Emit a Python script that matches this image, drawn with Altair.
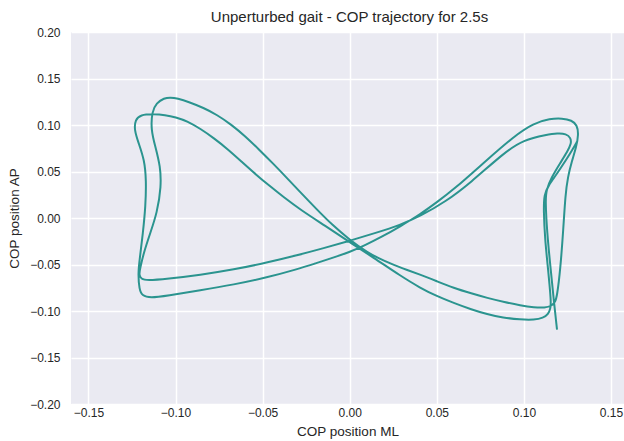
import altair as alt
import pandas as pd

# Centre-of-pressure path in recording order, split into strokes that follow
# one another (ML = x, AP = y).
tail_ml = [0.1190, 0.1171, 0.1152, 0.1133, 0.1123, 0.1129, 0.1157, 0.1209, 0.1249, 0.1272,
           0.1269, 0.1243, 0.1192, 0.1133, 0.0998, 0.0883, 0.0692]
tail_ap = [-0.1200, -0.0878, -0.0520, -0.0161, 0.0197, 0.0304, 0.0433, 0.0594, 0.0712, 0.0798,
           0.0863, 0.0906, 0.0911, 0.0895, 0.0841, 0.0698, 0.0376]

swing1_ml = [0.0550, 0.0405, 0.0290, 0.0150, 0.0000, -0.0150, -0.0300, -0.0475, -0.0666, -0.0858,
             -0.1049, -0.1164]
swing1_ap = [0.0175, 0.0020, -0.0075, -0.0160, -0.0245, -0.0325, -0.0400, -0.0480, -0.0555, -0.0612,
             -0.0655, -0.0673]

left1_ml = [-0.1198, -0.1210, -0.1203, -0.1183, -0.1145, -0.1106, -0.1082, -0.1087, -0.1116, -0.1141,
            -0.1135, -0.1110, -0.1065]
left1_ap = [-0.0655, -0.0610, -0.0540, -0.0376, -0.0161, 0.0054, 0.0339, 0.0554, 0.0769, 0.0948,
            0.1145, 0.1235, 0.1290]

swing2_ml = [-0.1030, -0.0990, -0.0920, -0.0840, -0.0762, -0.0680, -0.0600, -0.0520, -0.0440, -0.0360,
             -0.0280, -0.0190, -0.0100, 0.0000, 0.0100, 0.0200, 0.0300, 0.0405, 0.0500, 0.0596,
             0.0700, 0.0788, 0.0890, 0.0979, 0.1060, 0.1120, 0.1160, 0.1180]
swing2_ap = [0.1297, 0.1287, 0.1245, 0.1185, 0.1110, 0.1005, 0.0880, 0.0735, 0.0585, 0.0430,
             0.0270, 0.0095, -0.0075, -0.0235, -0.0370, -0.0465, -0.0540, -0.0609, -0.0680, -0.0752,
             -0.0812, -0.0859, -0.0905, -0.0940, -0.0962, -0.0965, -0.0945, -0.0900]

right2_ml = [0.1190, 0.1209, 0.1226, 0.1238, 0.1252, 0.1275, 0.1300, 0.1314, 0.1305, 0.1275,
             0.1220, 0.1150, 0.1056, 0.0941, 0.0788, 0.0596]
right2_ap = [-0.0842, -0.0555, -0.0126, 0.0250, 0.0440, 0.0610, 0.0760, 0.0900, 0.1000, 0.1050,
             0.1072, 0.1068, 0.1020, 0.0876, 0.0626, 0.0304]

swing3_ml = [0.0500, 0.0405, 0.0290, 0.0187, 0.0080, 0.0000, -0.0100, -0.0200, -0.0300, -0.0475,
             -0.0666, -0.0858, -0.1049, -0.1145]
swing3_ap = [0.0170, 0.0040, -0.0090, -0.0200, -0.0300, -0.0365, -0.0430, -0.0490, -0.0550, -0.0640,
             -0.0716, -0.0778, -0.0835, -0.0859]

left2_ml = [-0.1192, -0.1208, -0.1215, -0.1206, -0.1187, -0.1172, -0.1168, -0.1179, -0.1212, -0.1237,
            -0.1231, -0.1202]
left2_ap = [-0.0835, -0.0770, -0.0591, -0.0448, -0.0161, 0.0125, 0.0411, 0.0626, 0.0806, 0.0948,
            0.1056, 0.1110]

swing4_ml = [-0.1126, -0.1060, -0.1000, -0.0930, -0.0858, -0.0780, -0.0700, -0.0620, -0.0540, -0.0460,
             -0.0380, -0.0284, -0.0140, 0.0000, 0.0140, 0.0290, 0.0405, 0.0500, 0.0596, 0.0700,
             0.0788, 0.0880, 0.0979, 0.1060, 0.1110, 0.1140, 0.1153]
swing4_ap = [0.1117, 0.1108, 0.1085, 0.1040, 0.0960, 0.0860, 0.0740, 0.0605, 0.0470, 0.0345,
             0.0225, 0.0090, -0.0085, -0.0260, -0.0430, -0.0620, -0.0752, -0.0840, -0.0913, -0.0985,
             -0.1035, -0.1072, -0.1092, -0.1095, -0.1075, -0.1035, -0.0970]

end_ml = [0.1156, 0.1139, 0.1121, 0.1113, 0.1116, 0.1140, 0.1186, 0.1243, 0.1284, 0.1304]
end_ap = [-0.0900, -0.0555, -0.0233, 0.0089, 0.0250, 0.0347, 0.0466, 0.0626, 0.0752, 0.0819]

cop_ml = tail_ml + swing1_ml + left1_ml + swing2_ml + right2_ml + swing3_ml + left2_ml + swing4_ml + end_ml
cop_ap = tail_ap + swing1_ap + left1_ap + swing2_ap + right2_ap + swing3_ap + left2_ap + swing4_ap + end_ap

x_ticks = [-0.15, -0.10, -0.05, 0.00, 0.05, 0.10, 0.15]
y_ticks = [-0.20, -0.15, -0.10, -0.05, 0.00, 0.05, 0.10, 0.15, 0.20]

df = pd.DataFrame({"step": list(range(len(cop_ml))), "ml": cop_ml, "ap": cop_ap})

FONT = "Liberation Sans"
TEXT = "#262626"

axis_style = dict(
    grid=True,
    gridColor="white",
    gridWidth=1.5,
    domain=False,
    ticks=False,
    tickSize=0,
    labelFont=FONT,
    labelFontSize=12,
    labelColor=TEXT,
    labelFlush=False,
    labelOverlap=False,
    titleFont=FONT,
    titleFontSize=13.5,
    titleFontWeight="normal",
    titleColor=TEXT,
    format=".2f",
)

chart = (
    alt.Chart(df)
    .mark_line(color="#2b948f", strokeWidth=2, interpolate="basis")
    .encode(
        x=alt.X(
            "ml:Q",
            scale=alt.Scale(domain=[-0.16, 0.15745], nice=False, zero=False),
            axis=alt.Axis(values=x_ticks, title="COP position ML",
                          labelPadding=3, titlePadding=6, **axis_style),
        ),
        y=alt.Y(
            "ap:Q",
            scale=alt.Scale(domain=[-0.2, 0.2], nice=False, zero=False),
            axis=alt.Axis(values=y_ticks, title="COP position AP",
                          labelPadding=11, titlePadding=8, **axis_style),
        ),
        order="step:Q",
    )
    .properties(
        width=553,
        height=372,
        title=alt.TitleParams(
            "Unperturbed gait - COP trajectory for 2.5s",
            font=FONT,
            fontSize=15,
            fontWeight="normal",
            color=TEXT,
            anchor="middle",
            dx=2,
            offset=1,
        ),
        padding={"left": 71, "top": 32, "right": 0, "bottom": 37},
        autosize=alt.AutoSizeParams(type="none"),
        background="white",
    )
    .configure_view(fill="#eaeaf2", stroke=None)
)

chart.save("out.html", embed_options={"renderer": "svg", "actions": False})
